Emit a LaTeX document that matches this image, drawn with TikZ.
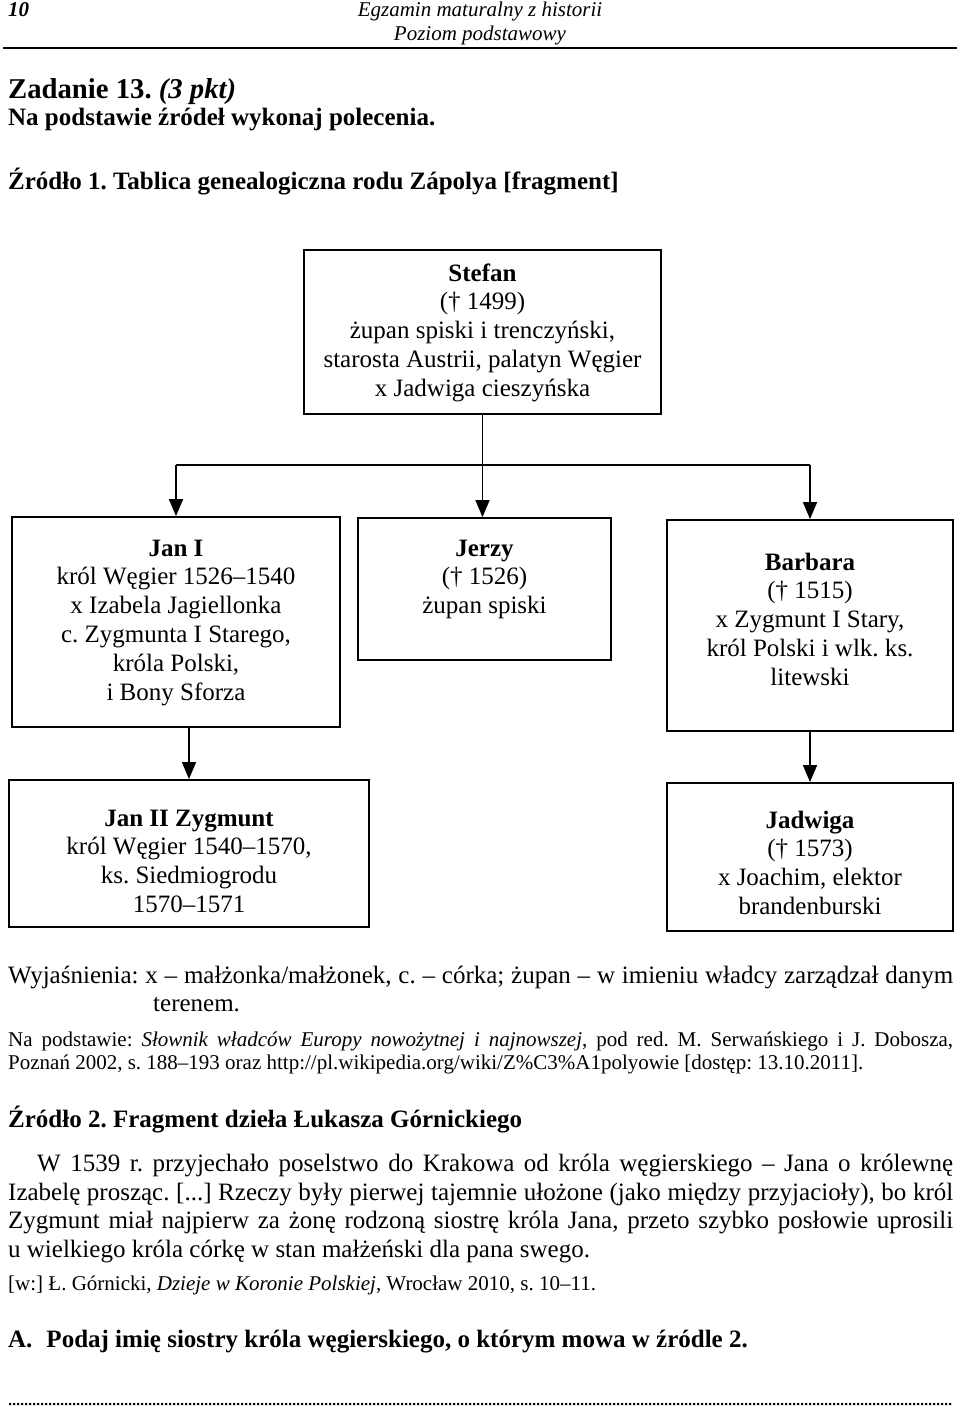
\documentclass[tikz,border=0pt]{standalone}
\usepackage{fontspec}
\setmainfont{Liberation Serif}
\usetikzlibrary{arrows.meta}
\begin{document}
\frenchspacing
\begin{tikzpicture}[x=1pt,y=-1pt,
  box/.style={draw, line width=1.8pt, inner sep=0pt},
  btext/.style={align=center, anchor=base, inner sep=0pt, font=\fontsize{25}{28.8}\selectfont},
  conn/.style={line width=1.4pt},
  arr/.style={conn, -{Triangle[length=17pt,width=14pt]}},
  txt/.style={anchor=base west, inner sep=0pt},
  body/.style={txt, font=\fontsize{25}{28}\selectfont},
  para/.style={txt, font=\fontsize{25}{29}\selectfont},
  small/.style={txt, font=\fontsize{21}{24}\selectfont},
  head/.style={txt, font=\fontsize{25}{29}\selectfont\bfseries}]
\useasboundingbox (0,0) rectangle (960,1410);

% page header
\node[txt, font=\fontsize{21}{24}\selectfont\bfseries\itshape] (pg) at (8,17) {10};
\node[anchor=base, inner sep=0pt, font=\fontsize{21}{24}\selectfont\itshape] (h1) at (480,17) {Egzamin maturalny z historii};
\node[anchor=base, inner sep=0pt, font=\fontsize{21}{24}\selectfont\itshape] (h2) at (480,41) {Poziom podstawowy};
\draw[line width=2pt] (3,48) -- (957,48);

\node[txt, font=\fontsize{28.7}{32}\selectfont\bfseries] (zad) at (8,99) {Zadanie 13. \textit{(3 pkt)}};
\node[head] (pol) at (8,125) {Na podstawie źródeł wykonaj polecenia.};
\node[head] (zr1) at (8,189) {Źródło 1. Tablica genealogiczna rodu Zápolya [fragment]};

% boxes
\node[box, minimum width=357pt, minimum height=164pt] (stefan) at (482.5,332) {};
\node[box, minimum width=328pt, minimum height=210pt] (janI) at (176,622) {};
\node[box, minimum width=253pt, minimum height=142pt] (jerzy) at (484.5,589) {};
\node[box, minimum width=286pt, minimum height=211pt] (barbara) at (810,625.5) {};
\node[box, minimum width=360pt, minimum height=147pt] (janII) at (189,853.5) {};
\node[box, minimum width=286pt, minimum height=148pt] (jadwiga) at (810,857) {};

% box texts (anchor = baseline of last line)
\node[btext] (tstefan) at (482.5,396.2) {\textbf{Stefan}\\(† 1499)\\żupan spiski i trenczyński,\\starosta Austrii, palatyn Węgier\\x Jadwiga cieszyńska};
\node[btext] (tjanI) at (176,700) {\textbf{Jan I}\\król Węgier 1526–1540\\x Izabela Jagiellonka\\c. Zygmunta I Starego,\\króla Polski,\\i Bony Sforza};
\node[btext] (tjerzy) at (484.5,613.6) {\textbf{Jerzy}\\(† 1526)\\żupan spiski};
\node[btext] (tbarbara) at (810,685.2) {\textbf{Barbara}\\(† 1515)\\x Zygmunt I Stary,\\król Polski i wlk. ks.\\litewski};
\node[btext] (tjanII) at (189,912.4) {\textbf{Jan II Zygmunt}\\król Węgier 1540–1570,\\ks. Siedmiogrodu\\1570–1571};
\node[btext] (tjadwiga) at (810,914.4) {\textbf{Jadwiga}\\(† 1573)\\x Joachim, elektor\\brandenburski};

% connectors
\coordinate (bar) at (482.5,465);
\draw[conn] (stefan.south) -- (bar);
\draw[conn] (bar -| janI.north) -- (bar -| barbara.north);
\draw[arr] (bar -| janI.north) -- (janI.north);
\draw[arr] (bar) -- (bar |- jerzy.north);
\draw[arr] (bar -| barbara.north) -- (barbara.north);
\draw[arr] (janII.north |- janI.south) -- (janII.north);
\draw[arr] (barbara.south) -- (barbara.south |- jadwiga.north);

% explanations
\node[body] (wyj) at (8,983) {\hbox to 945pt{Wyjaśnienia: x – małżonka/małżonek, c. – córka; żupan – w imieniu władcy zarządzał danym}};
\node[body] (ter) at (153,1011) {terenem.};
\node[small] (np1) at (8,1046) {\hbox to 945pt{Na podstawie: \textit{Słownik władców Europy nowożytnej i najnowszej}, pod red. M. Serwańskiego i J. Dobosza,}};
\node[small] (np2) at (8,1069) {Poznań 2002, s. 188–193 oraz http://pl.wikipedia.org/wiki/Z\%C3\%A1polyowie [dostęp: 13.10.2011].};

\node[head] (zr2) at (8,1127) {Źródło 2. Fragment dzieła Łukasza Górnickiego};
\node[para] (p1) at (37,1171) {\hbox to 916pt{W 1539 r. przyjechało poselstwo do Krakowa od króla węgierskiego – Jana o królewnę}};
\node[para] (p2) at (8,1200) {\hbox to 945pt{Izabelę prosząc. [...] Rzeczy były pierwej tajemnie ułożone (jako między przyjacioły), bo król}};
\node[para] (p3) at (8,1228) {\hbox to 945pt{Zygmunt miał najpierw za żonę rodzoną siostrę króla Jana, przeto szybko posłowie uprosili}};
\node[para] (p4) at (8,1257) {u wielkiego króla córkę w stan małżeński dla pana swego.};
\node[small] (src2) at (8,1290) {[w:] Ł. Górnicki, \textit{Dzieje w Koronie Polskiej}, Wrocław 2010, s. 10–11.};

\node[head] (qa) at (8,1347) {A.\hspace{14pt}Podaj imię siostry króla węgierskiego, o którym mowa w źródle 2.};
\node[small] (dots) at (8,1405) {\hbox to 945pt{\leaders\hbox to 4pt{\hss.\hss}\hfill}};
\end{tikzpicture}
\end{document}
